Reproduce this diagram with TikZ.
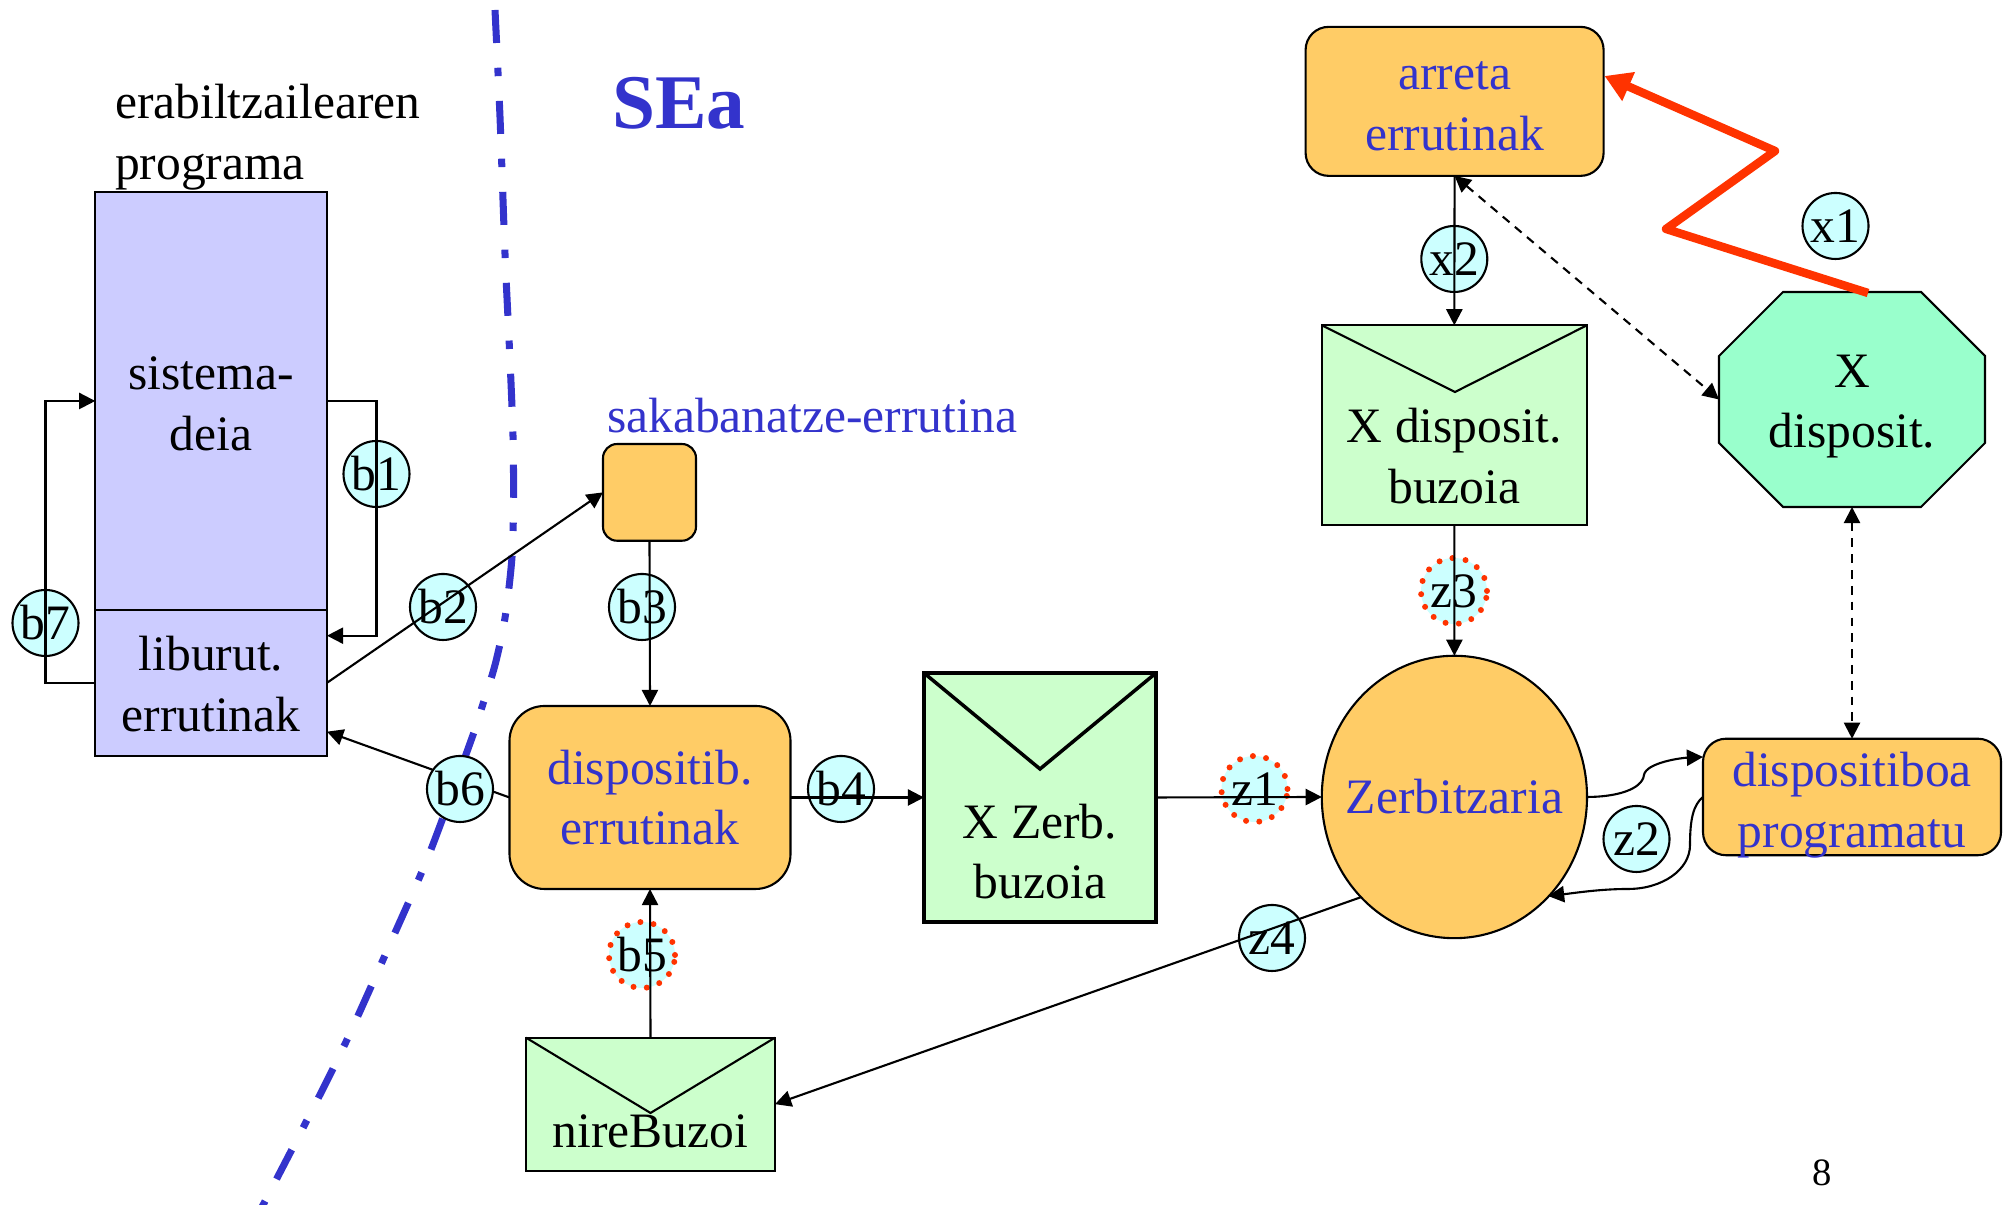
\documentclass[tikz,border=0pt]{standalone}
\usepackage{fontspec}
\setmainfont{Liberation Serif}
\usetikzlibrary{arrows.meta, shapes.geometric, backgrounds}
\definecolor{lila}{HTML}{CCCCFF}
\definecolor{laranja}{HTML}{FFCC66}
\definecolor{berdea}{HTML}{CCFFCC}
\definecolor{berdeilun}{HTML}{99FFCC}
\definecolor{ziana}{HTML}{CCFFFF}
\definecolor{urdina}{HTML}{3333CC}
\definecolor{gorria}{HTML}{FF3300}
\tikzstyle{flow} = [%
					line width = 0.6,
					-{Triangle[length=4.6pt, width=4.6pt]}
					]
\tikzstyle{dflow} = [%
					line width = 0.6,
					dash pattern = on 2.5pt off 2pt,
					{Triangle[length=4.6pt, width=4.6pt]}-{Triangle[length=4.6pt, width=4.6pt]}
					]
\tikzstyle{plain} = [%
					line width = 0.6]
\tikzstyle{mark1} = [%
					circle, draw, fill = ziana, line width = 0.6,
					minimum size = 0.66cm, inner sep = 0pt
					]
\tikzstyle{mark2} = [%
					circle, fill = ziana, minimum size = 0.66cm, inner sep = 0pt,
					postaction = {draw = gorria, line width = 1.7pt, line cap = round, dash pattern = on 0pt off 3.8pt}
					]
\tikzstyle{rutina} = [%
					draw, fill = laranja, rounded corners = 0.23cm, align = center, text = urdina, line width = 0.6
					]
\tikzstyle{buzoi} = [%
					draw, fill = berdea, rectangle, line width = 0.6
					]
\tikzstyle{prog} = [%
					draw, fill = lila, rectangle, align = center, line width = 0.6,
					minimum width = 2.315cm
					]

\begin{document}
\begin{tikzpicture}[font=\fontsize{14.1}{17.2}\selectfont, inner sep=0pt, outer sep=0pt]
		\useasboundingbox (0,0) rectangle (20.09,12.05);
		
		% Boundary
		\draw[urdina, line width = 2pt, dash pattern = on 9.4pt off 7.05pt on 2.4pt off 7.05pt] plot[smooth] coordinates {(4.95,11.95) (5.00,10.88) (5.05,9.51) (5.10,8.45) (5.13,7.69) (5.135,7.05) (5.12,6.48) (5.05,5.87) (4.95,5.40) (4.82,4.98) (4.73,4.70) (4.30,3.53) (3.94,2.70) (3.45,1.61) (3.04,0.79) (2.50,-0.25)};
		
		% Coordinates
		\coordinate (libin) at (3.27,5.693);
		\coordinate (libout) at (3.27,4.733);
		\coordinate (arretain) at (16.045,11.29);
		\coordinate (redknee) at (17.75,10.54);
		\coordinate (redfoot) at (16.66,9.76);
		\coordinate (redstart) at (18.68,9.12);
		\coordinate (dispoin) at (17.03,4.48);
		\coordinate (zerbin) at (15.48,3.09);
		\coordinate (xbuzoitip) at (14.55,8.13);
		\coordinate (xzerbtip) at (10.40,4.36);
		\coordinate (niretip) at (6.505,0.92);
		
		% Nodes
		%% Step marks
		\node[mark1] (b1) at (3.765,7.31) {b1};
		\node[mark1] (b2) at (4.43,5.98) {b2};
		\node[mark1] (b3) at (6.42,5.98) {b3};
		\node[mark1] (b4) at (8.41,4.16) {b4};
		\node[mark2] (b5) at (6.42,2.50) {b5};
		\node[mark1] (b7) at (0.455,5.82) {b7};
		\node[mark2] (z1) at (12.545,4.16) {z1};
		\node[mark1] (z2) at (16.365,3.66) {z2};
		\node[mark2] (z3) at (14.54,6.14) {z3};
		\node[mark1] (z4) at (12.72,2.67) {z4};
		\node[mark1] (x1) at (18.355,9.79) {x1};
		\node[mark1] (x2) at (14.543,9.46) {x2};
		
		%% User program
		\node[anchor=west, align=left] (erabil) at (1.15,10.68) {erabiltzailearen\\programa};
		\node[prog, minimum height=4.187cm, label={[align=center, yshift=-0.03cm]center:sistema-\\deia}] (sistema) at (2.11,8.04) {};
		\node[prog, minimum height=1.453cm, label={[align=center, yshift=-0.01cm]center:liburut.\\errutinak}] (liburut) at (2.11,5.22) {};
		
		%% Titles
		\node[text=urdina, font=\fontsize{22}{26}\selectfont\bfseries] (sea) at (6.79,11.02) {SEa};
		\node[text=urdina] (sakabt) at (8.12,7.89) {sakabanatze-errutina};
		\node[font=\fontsize{11}{13}\selectfont] (orria) at (18.22,0.32) {8};
		
		%% Routines
		\node[rutina, minimum width=0.93cm, minimum height=0.967cm, rounded corners=0.14cm] (sakab) at (6.495,7.126) {};
		\node[rutina, minimum width=2.81cm, minimum height=1.83cm, rounded corners=0.35cm] (disp) at (6.50,4.075) {dispositib.\\errutinak};
		\node[rutina, minimum width=2.98cm, minimum height=1.49cm, label={[align=center, text=urdina, yshift=-0.05cm]center:arreta\\errutinak}] (arreta) at (14.546,11.036) {};
		\node[rutina, minimum width=2.98cm, minimum height=1.165cm, label={[align=center, text=urdina, yshift=-0.08cm]center:dispositiboa\\programatu}] (dispo) at (18.52,4.08) {};
		\node[ellipse, draw, fill=laranja, line width=0.6, minimum width=2.652cm, minimum height=2.824cm, label={[text=urdina]center:Zerbitzaria}] (zerb) at (14.544,4.08) {};
		
		%% Device
		\node[minimum width=2.66cm, minimum height=2.15cm, label={[align=center, yshift=-0.07cm]center:X\\disposit.}] (xdisp) at (18.52,8.055) {};
		\begin{scope}[on background layer]
			\draw[fill=berdeilun, line width=0.6] ([xshift=0.64cm]xdisp.north west) -- ([xshift=-0.64cm]xdisp.north east) -- ([yshift=-0.64cm]xdisp.north east) -- ([yshift=0.64cm]xdisp.south east) -- ([xshift=-0.64cm]xdisp.south east) -- ([xshift=0.64cm]xdisp.south west) -- ([yshift=0.64cm]xdisp.south west) -- ([yshift=-0.64cm]xdisp.north west) -- cycle;
		\end{scope}
		
		%% Mailboxes
		\node[buzoi, minimum width=2.65cm, minimum height=1.993cm, label={[align=center, yshift=-0.31cm]center:X disposit.\\buzoia}] (xbuzoi) at (14.543,7.80) {};
		\node[buzoi, line width=1pt, minimum width=2.32cm, minimum height=2.49cm, label={[align=center, yshift=-0.54cm]center:X Zerb.\\buzoia}] (xzerb) at (10.40,4.075) {};
		\node[buzoi, minimum width=2.49cm, minimum height=1.33cm, label={[yshift=-0.27cm]center:nireBuzoi}] (nire) at (6.505,1.008) {};
		\draw[plain] (xbuzoi.north west) -- (xbuzoitip) -- (xbuzoi.north east);
		\draw[line width=1pt] (xzerb.north west) -- (xzerbtip) -- (xzerb.north east);
		\draw[plain] (nire.north west) -- (niretip) -- (nire.north east);
		
		% Connectors
		\draw[flow] (sistema.east) -| (b1.center) |- (libin);
		\draw[flow] (liburut.west) -| (b7.center) |- (sistema.west);
		\draw[flow] (liburut.east) -- (sakab.west);
		\draw[flow] (sakab.south) -- (disp.north);
		\draw[flow] (disp.east) -- (xzerb.west);
		\draw[flow] (nire.north) -- (disp.south);
		\draw[flow] (xzerb.east) -- (zerb.west);
		\draw[flow] (zerb.227) -- (nire.east);
		\draw[flow] (arreta.south) -- (xbuzoi.north);
		\draw[flow] (xbuzoi.south) -- (zerb.north);
		\draw[flow] (zerb.east) .. controls (16.15,4.08) and (16.42,4.15) .. (16.44,4.30) .. controls (16.46,4.42) and (16.8,4.47) .. (dispoin);
		\draw[flow] (dispo.west) .. controls (16.93,4.0) and (16.90,3.85) .. (16.90,3.60) .. controls (16.90,3.35) and (16.62,3.16) .. (16.28,3.16) .. controls (16.0,3.16) and (15.75,3.12) .. (zerbin);
		\draw[dflow] (arreta.south) -- (xdisp.west);
		\draw[dflow] (xdisp.south) -- (dispo.north);
		\draw[gorria, line width=2.4pt, line join=round, -{Triangle[length=7.5pt, width=8.5pt]}] (redstart) -- (redfoot) -- (redknee) -- (arretain);
		\draw[flow] (disp.west) -- (libout);
		\node[mark1] (b6) at (4.60,4.16) {b6};
\end{tikzpicture}
\end{document}
